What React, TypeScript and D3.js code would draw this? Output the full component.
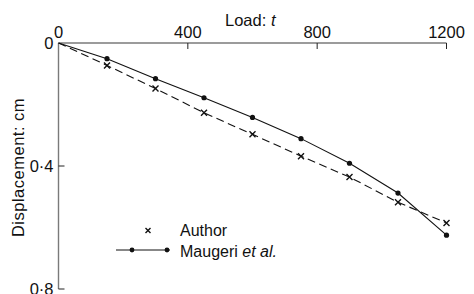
import React from 'react'
import * as d3 from 'd3'

const loads = [0, 150, 300, 450, 600, 750, 900, 1050, 1200]
const authorDisp = [0, 0.073, 0.148, 0.227, 0.297, 0.368, 0.436, 0.518, 0.585]
const maugeriDisp = [0, 0.051, 0.116, 0.178, 0.242, 0.311, 0.391, 0.488, 0.625]
const xTicks = [0, 400, 800, 1200]
const yTicks = [0, 0.4, 0.8]

const W = 474, H = 294
const m = { top: 43, left: 58.5, right: 27.5, bottom: 5 }

export default function App() {
  const x = d3.scaleLinear().domain([0, 1200]).range([m.left, W - m.right])
  const y = d3.scaleLinear().domain([0, 0.8]).range([m.top, H - m.bottom])

  const line = d3.line<number>()
    .x((d, i) => x(loads[i]))
    .y(d => y(d))

  const axisCol = '#7a7a7a'
  const font = '"Liberation Sans", Arial, sans-serif'
  const fmtY = (v: number) => v === 0 ? '0' : d3.format('.1f')(v).replace('.', '·')

  const cross = (cx: number, cy: number, key: any, s = 3) => (
    <path key={key} d={`M${cx - s},${cy - s}L${cx + s},${cy + s}M${cx + s},${cy - s}L${cx - s},${cy + s}`}
      stroke="#111" strokeWidth={1.4} />
  )

  return (
    <svg width={W} height={H} style={{ position: 'absolute', left: 0, top: 0, background: '#fff' }}
      fontFamily={font}>
      {/* axes */}
      <line x1={x(0)} x2={x(1200)} y1={y(0)} y2={y(0)} stroke={axisCol} strokeWidth={1.6} />
      <line x1={x(0)} x2={x(0)} y1={y(0)} y2={y(0.8)} stroke={axisCol} strokeWidth={1.4} />
      {xTicks.filter(t => t > 0).map(t => (
        <line key={t} x1={x(t)} x2={x(t)} y1={y(0)} y2={y(0) + 6} stroke="#222" strokeWidth={1} />
      ))}
      {xTicks.map(t => (
        <text key={'xl' + t} x={x(t)} y={y(0) - 5.5} textAnchor="middle" fontSize={16.5} fill="#111">{t}</text>
      ))}
      {yTicks.filter(t => t > 0).map(t => (
        <line key={t} x1={x(0)} x2={x(0) + 6} y1={y(t)} y2={y(t)} stroke="#222" strokeWidth={1} />
      ))}
      {yTicks.map(t => (
        <text key={'yl' + t} x={x(0) - 5} y={y(t) + 5.5} textAnchor="end" fontSize={16.5} fill="#111">{fmtY(t)}</text>
      ))}
      <text x={225} y={26} fontSize={16.5} fill="#111">Load: <tspan fontStyle="italic">t</tspan></text>
      <text transform={`translate(23.5,167.5) rotate(-90)`} textAnchor="middle" fontSize={16.5}
        letterSpacing={0.5} fill="#111">Displacement: cm</text>

      {/* series */}
      <path d={line(authorDisp) || ''} fill="none" stroke="#111" strokeWidth={1.1} strokeDasharray="8,4.5" />
      <path d={line(maugeriDisp) || ''} fill="none" stroke="#111" strokeWidth={1.1} />
      {authorDisp.map((d, i) => i > 0 ? cross(x(loads[i]), y(d), 'a' + i) : null)}
      {maugeriDisp.map((d, i) => i > 0 ? <circle key={'m' + i} cx={x(loads[i])} cy={y(d)} r={2.6} fill="#111" /> : null)}

      {/* legend */}
      {cross(148, 230.5, 'leg', 2.5)}
      <text x={180} y={236} fontSize={16} fill="#111">Author</text>
      <line x1={116} x2={170} y1={250} y2={250} stroke="#111" strokeWidth={1} />
      <circle cx={132} cy={250} r={2.4} fill="#111" />
      <circle cx={167} cy={250} r={2.4} fill="#111" />
      <text x={180} y={256.5} fontSize={16} fill="#111">Maugeri <tspan fontStyle="italic">et al.</tspan></text>
    </svg>
  )
}
